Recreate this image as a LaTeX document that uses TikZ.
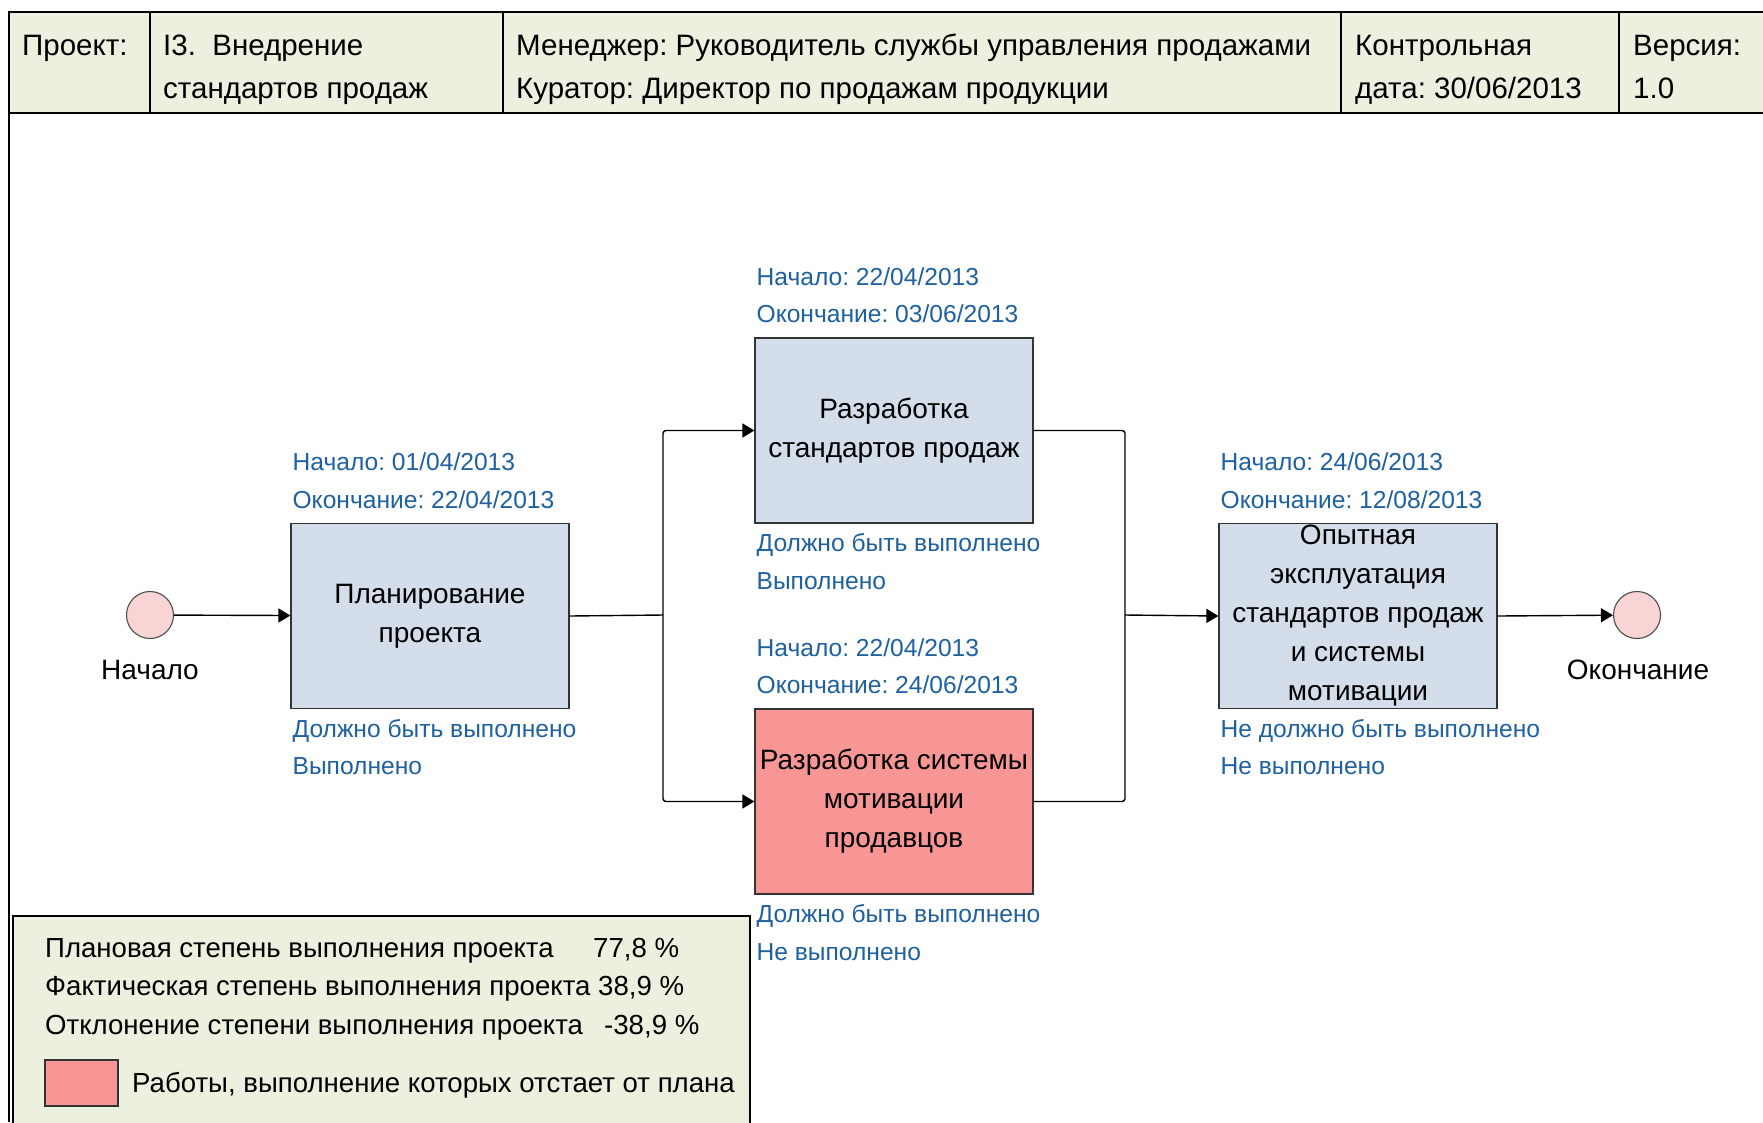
\documentclass[tikz,border=0pt]{standalone}
\usepackage{fontspec}
\setmainfont{Liberation Sans}
\usetikzlibrary{arrows.meta,calc}
\definecolor{hdr}{RGB}{235,241,222}
\definecolor{boxb}{RGB}{212,221,234}
\definecolor{boxr}{RGB}{248,150,150}
\definecolor{circ}{RGB}{249,212,212}
\definecolor{lblue}{RGB}{31,97,160}
\frenchspacing
\begin{document}
\begin{tikzpicture}[x=1pt,y=-1pt,
 task/.style={draw=black!80, line width=1.2pt, fill=boxb, minimum width=278pt, minimum height=185pt, inner sep=0pt, align=center, font=\fontsize{28}{39}\selectfont},
 lbl/.style={anchor=west, align=left, text=lblue, inner sep=0pt, font=\fontsize{24.6}{37.5}\selectfont},
 ev/.style={circle, draw=black!70, line width=1.1pt, fill=circ, minimum size=47pt, inner sep=0pt},
 txt/.style={inner sep=0pt, font=\fontsize{28}{39}\selectfont},
 hd/.style={anchor=base west, inner sep=0pt, font=\fontsize{29.5}{39}\selectfont},
 lg/.style={anchor=base west, inner sep=0pt, font=\fontsize{27.6}{39}\selectfont},
 conn/.style={line width=1.4pt, rounded corners=3pt},
 arr/.style={-{Triangle[length=12pt,width=14pt]}}
]
\useasboundingbox (0,0) rectangle (1763,1122);
\fill[white] (0,0) rectangle (1763,1122);
% header
\fill[hdr] (9,12) rectangle (1763,113);
\draw[line width=2.5pt] (1763,12) -- (9,12) -- (9,1122);
\draw[line width=2.5pt] (9,113) -- (1763,113);
\foreach \xx in {150,503,1341,1619} \draw[line width=2.5pt] (\xx,12) -- (\xx,113);
\node[hd] (h1) at (22,55) {Проект:};
\node[hd] (h2a) at (163,55) {I3.\ \ Внедрение};
\node[hd] (h2b) at (163,98) {стандартов продаж};
\node[hd] (h3a) at (516,55) {Менеджер: Руководитель службы управления продажами};
\node[hd] (h3b) at (516,98) {Куратор: Директор по продажам продукции};
\node[hd] (h4a) at (1355,55) {Контрольная};
\node[hd] (h4b) at (1355,98) {дата: 30/06/2013};
\node[hd] (h5a) at (1633,55) {Версия:};
\node[hd] (h5b) at (1633,98) {1.0};

% events
\node[ev] (st) at (150,615) {};
\node[txt] (stl) at (150,670) {Начало};
\node[ev] (en) at (1637,615) {};
\node[txt] (enl) at (1638,670) {Окончание};

% tasks
\node[task] (b1) at (430,616) {Планирование\\проекта};
\node[task] (b2) at (894,430.5) {Разработка\\стандартов продаж};
\node[task, fill=boxr] (b3) at (894,801.5) {Разработка системы\\мотивации\\продавцов};
\node[task] (b4) at (1358,616) {Опытная\\эксплуатация\\стандартов продаж\\и системы\\мотивации};

% labels
\node[lbl] (b1u) at ($(b1.north west)+(2,-42)$) {Начало: 01/04/2013\\Окончание: 22/04/2013};
\node[lbl] (b1d) at ($(b1.south west)+(2,38)$) {Должно быть выполнено\\Выполнено};
\node[lbl] (b2u) at ($(b2.north west)+(2,-42)$) {Начало: 22/04/2013\\Окончание: 03/06/2013};
\node[lbl] (b2d) at ($(b2.south west)+(2,38)$) {Должно быть выполнено\\Выполнено};
\node[lbl] (b3u) at ($(b3.north west)+(2,-42)$) {Начало: 22/04/2013\\Окончание: 24/06/2013};
\node[lbl] (b3d) at ($(b3.south west)+(2,38)$) {Должно быть выполнено\\Не выполнено};
\node[lbl] (b4u) at ($(b4.north west)+(2,-42)$) {Начало: 24/06/2013\\Окончание: 12/08/2013};
\node[lbl] (b4d) at ($(b4.south west)+(2,38)$) {Не должно быть выполнено\\Не выполнено};

% connectors
\coordinate (j1) at (663,615);
\coordinate (j2) at (1125,615);
\draw[conn,arr] (st) -- (b1);
\draw[conn] (b1.east) -- (j1);
\draw[conn,arr] (j1) |- (b2.west);
\draw[conn,arr] (j1) |- (b3.west);
\draw[conn] (b2.east) -| (j2);
\draw[conn] (b3.east) -| (j2);
\draw[conn,arr] (j2) -- (b4.west);
\draw[conn,arr] (b4.east) -- (en);

% legend
\draw[fill=hdr, line width=1.5pt] (13,916) rectangle (750,1130);
\node[lg] (l1) at (45,957) {Плановая степень выполнения проекта};
\node[lg] (l1v) at (593,957) {77,8 \%};
\node[lg] (l2) at (45,995) {Фактическая степень выполнения проекта};
\node[lg] (l2v) at (598,995) {38,9 \%};
\node[lg] (l3) at (45,1034) {Отклонение степени выполнения проекта};
\node[lg] (l3v) at (604,1034) {-38,9 \%};
\node[draw=black!80, line width=1.2pt, fill=boxr, minimum width=73pt, minimum height=46pt, inner sep=0pt] (lsq) at (81.5,1083) {};
\node[lg] (l4) at (132,1092) {Работы, выполнение которых отстает от плана};
\end{tikzpicture}
\end{document}
